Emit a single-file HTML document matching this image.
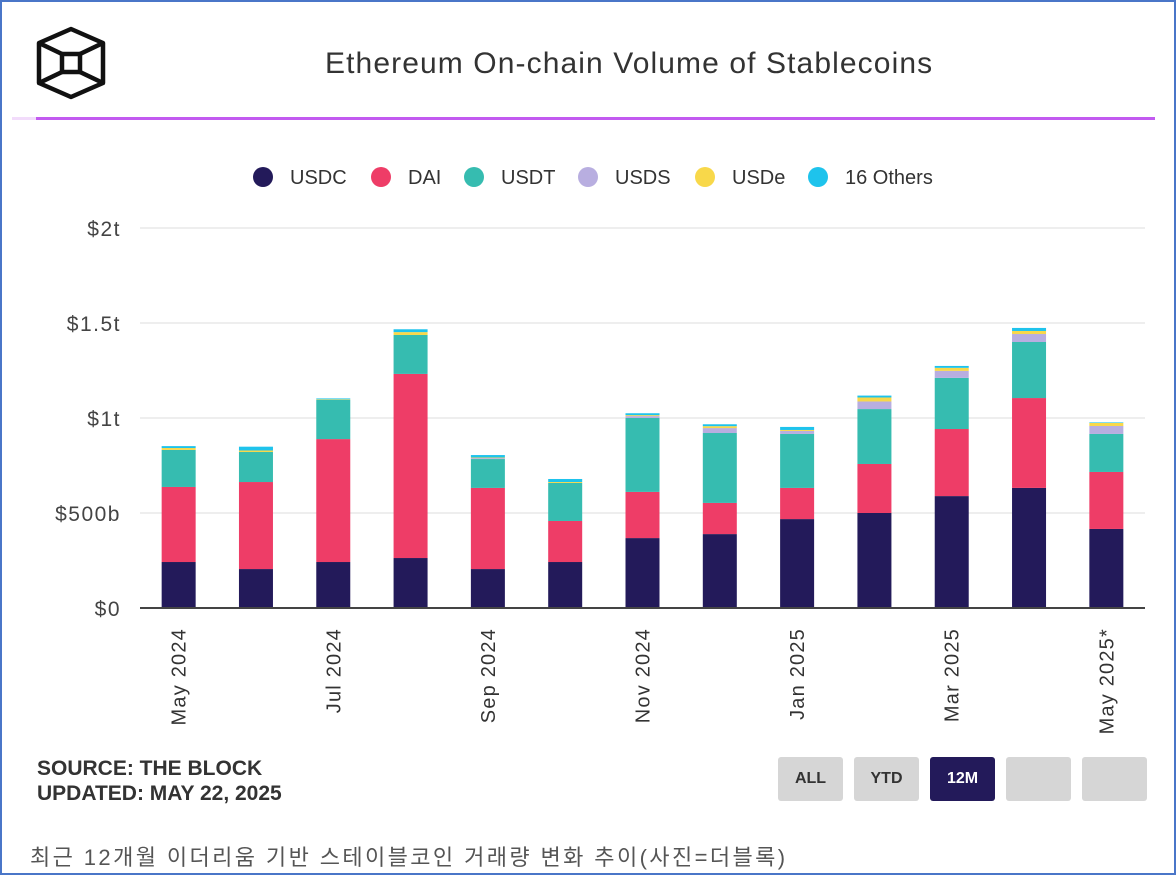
<!DOCTYPE html>
<html><head><meta charset="utf-8"><style>
body{margin:0;width:1176px;height:875px;background:#fff;font-family:"Liberation Sans","Noto Sans CJK KR",sans-serif;overflow:hidden;position:relative}
.frame{position:absolute;left:0;top:0;width:1172px;height:871px;border:2px solid #4a76c8}
.btn{position:absolute;top:757px;width:65px;height:44px;background:#d6d6d6;border-radius:3px;font-weight:bold;font-size:16px;color:#333;text-align:center;line-height:44px}
</style></head><body>
<div class="frame"></div>
<svg style="position:absolute;left:36px;top:26px" width="72" height="76" viewBox="0 0 72 76">
<g fill="none" stroke="#111" stroke-width="4.5" stroke-linejoin="round">
<polygon points="35,3 67,17 67,57 35,71 3,57 3,17"/><polyline points="3,17 26,28"/><polyline points="67,17 44,28"/><polyline points="3,57 26,46"/><polyline points="67,57 44,46"/><rect x="26" y="28" width="18" height="18"/></g></svg>
<div style="position:absolute;left:325px;top:47px;font-size:30px;letter-spacing:1.1px;color:#333">Ethereum On-chain Volume of Stablecoins</div>
<div style="position:absolute;left:12px;top:117px;width:24px;height:3px;background:#f2dcfb"></div>
<div style="position:absolute;left:36px;top:117px;width:1119px;height:3px;background:#c25af0"></div>
<svg id="chart" style="position:absolute;left:0;top:0" width="1176" height="875"></svg>
<div style="position:absolute;left:37px;top:756px;font-size:21px;font-weight:bold;color:#333;line-height:25px">SOURCE: THE BLOCK<br>UPDATED: MAY 22, 2025</div>
<div class="btn" style="left:778px">ALL</div>
<div class="btn" style="left:854px">YTD</div>
<div class="btn" style="left:930px;background:#231a5a;color:#fff">12M</div>
<div class="btn" style="left:1006px"></div>
<div class="btn" style="left:1082px"></div>
<div style="position:absolute;left:30px;top:840px;font-size:22px;letter-spacing:2.4px;color:#555">최근 12개월 이더리움 기반 스테이블코인 거래량 변화 추이(사진=더블록)</div>
<script>
const categories=["May 2024","Jun 2024","Jul 2024","Aug 2024","Sep 2024","Oct 2024","Nov 2024","Dec 2024","Jan 2025","Feb 2025","Mar 2025","Apr 2025","May 2025*"];
const xLabels=["May 2024","","Jul 2024","","Sep 2024","","Nov 2024","","Jan 2025","","Mar 2025","","May 2025*"];
const seriesNames=["USDC","DAI","USDT","USDS","USDe","16 Others"];
const seriesColors=["#231a5a","#ee3d67","#36bcb0","#b8aee0","#f8d84a","#1ec3ec"];
const usdc=[242,205,242,263,205,242,368,389,468,500,589,632,416];
const dai=[395,458,647,969,427,216,243,164,164,258,353,473,300];
const usdt=[195,158,206,205,152,200,389,368,284,289,269,295,200];
const usds=[0,0,0,0,5,0,10,26,16,40,37,42,42];
const usde=[10,8,3,15,3,5,5,10,5,21,16,16,16];
const others=[10,20,5,15,13,16,10,10,16,10,10,16,3];
const yTicks=[0,500,1000,1500,2000];
const yTickLabels=["$0","$500b","$1t","$1.5t","$2t"];
const NS="http://www.w3.org/2000/svg",svg=document.getElementById("chart");
const x0=140,x1=1145,yBase=608,yTop=228,vMax=2000;
const step=(x1-x0)/categories.length,bw=34;
const y=v=>yBase-(v/vMax)*(yBase-yTop);
const xc=i=>x0+step*(i+0.5);
function mk(t,a){const e=document.createElementNS(NS,t);for(const k in a)e.setAttribute(k,a[k]);svg.appendChild(e);return e;}
yTicks.forEach((t,i)=>{
 if(t>0){const g=mk("line",{x1:x0,x2:x1,y1:y(t),y2:y(t),stroke:"#e8e8e8","stroke-width":1.5});
 
 }
 const l=mk("text",{x:121,y:y(t)+8,"text-anchor":"end","font-size":21,"letter-spacing":1.5,fill:"#444","font-family":"Liberation Sans, sans-serif"});
 l.textContent=yTickLabels[i];
 
 
});
const series=[usdc,dai,usdt,usds,usde,others];
categories.forEach((c,i)=>{
 let acc=0;
 series.forEach((s,k)=>{
  const v=s[i];if(!v)return;
  const r=mk("rect",{x:xc(i)-bw/2,y:y(acc+v),width:bw,height:y(acc)-y(acc+v),fill:seriesColors[k]});
  
  
  acc+=v;
 });
 if(xLabels[i]){
  const t=mk("text",{x:0,y:0,transform:`translate(${xc(i)+7},628) rotate(-90)`,"text-anchor":"end","font-size":20,"letter-spacing":1.2,fill:"#333","font-family":"Liberation Sans, sans-serif"});
  t.textContent=xLabels[i];
  
  
 }
});
const ax=mk("line",{x1:x0,x2:x1,y1:yBase,y2:yBase,stroke:"#444","stroke-width":2});


const lx=[263,381,474,588,705,818];
seriesNames.forEach((n,k)=>{
 const c=mk("circle",{cx:lx[k],cy:177,r:10,fill:seriesColors[k]});
 
 
 const t=mk("text",{x:lx[k]+27,y:184,"font-size":20,fill:"#333","font-family":"Liberation Sans, sans-serif"});
 t.textContent=n;
 
 
});
</script>
</body></html>
